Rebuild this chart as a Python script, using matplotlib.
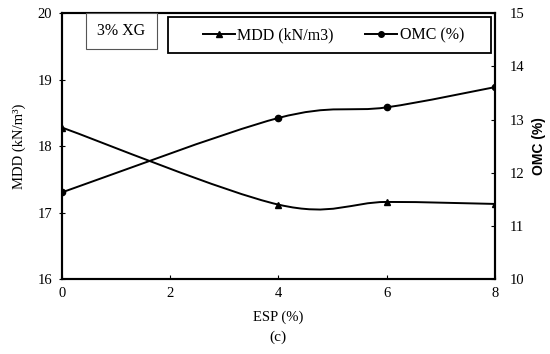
import matplotlib
matplotlib.use("Agg")
import matplotlib.pyplot as plt
from matplotlib.path import Path
from matplotlib.patches import PathPatch, Rectangle
from matplotlib.lines import Line2D

plt.rcParams['font.family'] = ['Liberation Serif', 'DejaVu Serif']

# data
esp = [0, 4, 6, 8]
mdd = [18.28, 17.12, 17.16, 17.13]
omc = [11.63, 13.03, 13.23, 13.61]


def smooth_path(x, y):
    # Excel-style smoothed line: Catmull-Rom segments as cubic Bezier curves
    verts = [(x[0], y[0])]
    codes = [Path.MOVETO]
    n = len(x)
    for i in range(n - 1):
        x0, y0 = (x[i - 1], y[i - 1]) if i > 0 else (x[i], y[i])
        x3, y3 = (x[i + 2], y[i + 2]) if i + 2 < n else (x[i + 1], y[i + 1])
        c1 = (x[i] + (x[i + 1] - x0) / 6, y[i] + (y[i + 1] - y0) / 6)
        c2 = (x[i + 1] - (x3 - x[i]) / 6, y[i + 1] - (y3 - y[i]) / 6)
        verts += [c1, c2, (x[i + 1], y[i + 1])]
        codes += [Path.CURVE4] * 3
    return Path(verts, codes)


fig = plt.figure(figsize=(5.5, 3.54), dpi=100)
ax = fig.add_axes([0.1127, 0.2119, 0.7868, 0.7505])
ax2 = ax.twinx()

ax.add_patch(PathPatch(smooth_path(esp, mdd), fill=False, lw=1.4, color='black'))
ax.plot(esp, mdd, ls='none', marker='^', ms=4.5, color='black')

ax2.add_patch(PathPatch(smooth_path(esp, omc), fill=False, lw=1.4, color='black'))
ax2.plot(esp, omc, ls='none', marker='o', ms=4.5, color='black')

ax.set_xlim(0, 8)
ax.set_ylim(16, 20)
ax2.set_ylim(10, 15)
ax.set_xticks([0, 2, 4, 6, 8])
ax.set_yticks([16, 17, 18, 19, 20])
ax2.set_yticks([10, 11, 12, 13, 14, 15])

for a in (ax, ax2):
    for s in a.spines.values():
        s.set_linewidth(1.5)
ax.tick_params(axis='x', direction='in', length=3, labelsize=10.5, pad=6)
ax.tick_params(axis='y', direction='inout', length=4, labelsize=10.5, pad=5)
ax2.tick_params(axis='y', direction='in', length=3, labelsize=10.5, pad=11)

ax.set_xlabel('ESP (%)', fontsize=10.5, labelpad=7)
ax.set_ylabel('MDD (kN/m³)', fontsize=10.5, labelpad=8)
ax2.set_ylabel('OMC (%)', fontsize=10, family=['Liberation Sans', 'DejaVu Sans'],
               fontweight='bold', labelpad=5)

fig.text(0.505, 0.048, '(c)', ha='center', va='center', fontsize=11)

# legend box
ax2.add_patch(Rectangle((0.245, 0.8506), 0.7465, 0.1354, transform=ax.transAxes,
                        fc='white', ec='black', lw=1.3, zorder=5))
handles = [Line2D([], [], color='black', lw=1.4, marker='^', ms=4),
           Line2D([], [], color='black', lw=1.4, marker='o', ms=4)]
leg = ax2.legend(handles, ['MDD (kN/m3)', 'OMC (%)'], ncol=2, fontsize=11.5,
                 loc='center', bbox_to_anchor=(0.627, 0.918), frameon=False,
                 handlelength=2.0, handletextpad=0.15, columnspacing=2.0,
                 borderpad=0.2)
leg.set_zorder(6)

# "3% XG" box
ax2.add_patch(Rectangle((0.0555, 0.866), 0.164, 0.134, transform=ax.transAxes,
                        fc='white', ec='#555555', lw=0.8, zorder=5))
ax2.text(0.1375, 0.933, '3% XG', transform=ax.transAxes, fontsize=11.5,
         ha='center', va='center', zorder=6)

fig.savefig('out.png', dpi=100)
